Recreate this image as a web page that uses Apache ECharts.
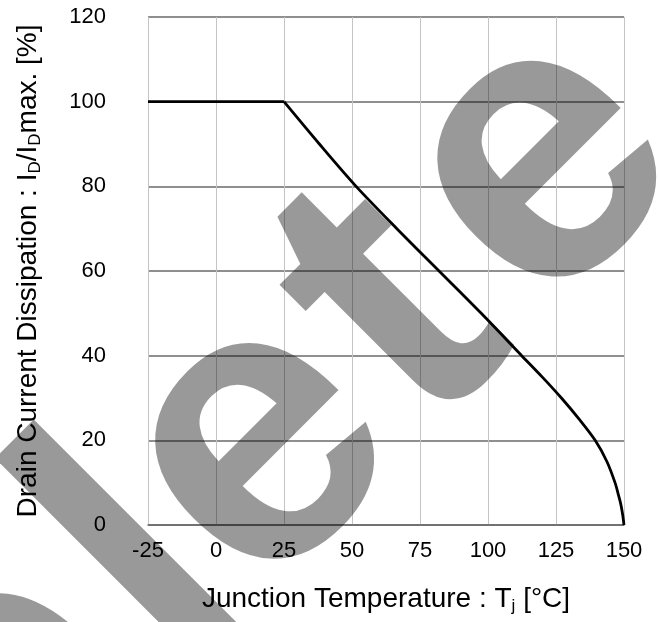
<!DOCTYPE html>
<html>
<head>
<meta charset="utf-8">
<script src="https://cdn.jsdelivr.net/npm/echarts@6/dist/echarts.min.js"></script>
<style>
html,body{margin:0;padding:0;background:#fff;}
#c{width:658px;height:622px;}
</style>
</head>
<body>
<div id="c"></div>
<script>
// Flat part of the derating curve
const flatX = [-25, 25];
const flatY = [100, 100];
// Derating part (Tj in degC, ID/IDmax in %)
const curveX = [25, 38, 51.5, 66.5, 82, 97.5, 112.4, 119.9, 127.0, 133.5, 139.4, 143.7, 146.7, 148.0, 148.8, 149.5, 150];
const curveY = [100, 90, 80, 70, 60, 50, 40, 35, 30, 25, 20, 15, 10, 7, 5, 2.5, 0];
const xTicks = { min: -25, max: 150, step: 25 };
const yTicks = { min: 0, max: 120, step: 20 };
// Watermark letters
const wmLetters = ['D', 'e', 'l', 'e', 't', 'e'];

const pair = (xs, ys) => xs.map((x, i) => [x, ys[i]]);
const FONT = 'Liberation Sans, Arial, sans-serif';

// watermark layout (decoration only, in the rotated text frame)
const wmPos = [-758, -488, -300, -134, 58, 265];
const wmChildren = wmLetters.map((ch, i) => ({
  type: 'text', x: wmPos[i], y: 500, z: 100, silent: true,
  style: {
    text: ch, font: 'bold 400px Liberation Sans, Arial, sans-serif',
    fill: 'rgba(0,0,0,0.4)', textAlign: 'center', textVerticalAlign: 'middle'
  }
}));

const titleRich = {
  n: { fontSize: 28, fontFamily: FONT, color: '#000' },
  s: { fontSize: 17, fontFamily: FONT, color: '#000', padding: [14, 0, 0, 0] }
};

const chart = echarts.init(document.getElementById('c'));
chart.setOption({
  animation: false,
  backgroundColor: '#fff',
  grid: { left: 148, right: 34, top: 17, bottom: 97, containLabel: false },
  xAxis: {
    type: 'value', min: xTicks.min, max: xTicks.max, interval: xTicks.step,
    axisLine: { show: true, lineStyle: { color: '#6a6a6a', width: 1.5 } },
    axisTick: { show: false },
    axisLabel: { color: '#000', fontSize: 22, fontFamily: FONT, margin: 15 },
    splitLine: { show: true, lineStyle: { color: '#c4c4c4', width: 1 } },
    name: '{n|Junction Temperature : T}{s|j}{n| [°C]}',
    nameLocation: 'middle', nameGap: 59,
    nameTextStyle: { color: '#000', fontFamily: FONT, rich: titleRich }
  },
  yAxis: {
    type: 'value', min: yTicks.min, max: yTicks.max, interval: yTicks.step,
    axisLine: { show: false },
    axisTick: { show: false },
    axisLabel: { color: '#000', fontSize: 22, fontFamily: FONT, margin: 42 },
    splitLine: { show: true, lineStyle: { color: '#6a6a6a', width: 1.5 } },
    name: '{n|Drain Current Dissipation : I}{s|D}{n|/I}{s|D}{n|max. [%]}',
    nameLocation: 'middle', nameGap: 104,
    nameTextStyle: { color: '#000', fontFamily: FONT, rich: titleRich }
  },
  series: [
    {
      type: 'line', data: pair(flatX, flatY), showSymbol: false,
      lineStyle: { color: '#000', width: 2.8 }, z: 3
    },
    {
      type: 'line', data: pair(curveX, curveY), showSymbol: false,
      smooth: 0.3,
      lineStyle: { color: '#000', width: 2.8 }, z: 3
    }
  ],
  graphic: [
    {
      type: 'group', x: 0, y: 0, rotation: Math.PI / 4, z: 100, silent: true,
      children: wmChildren
    }
  ]
});
</script>
</body>
</html>
